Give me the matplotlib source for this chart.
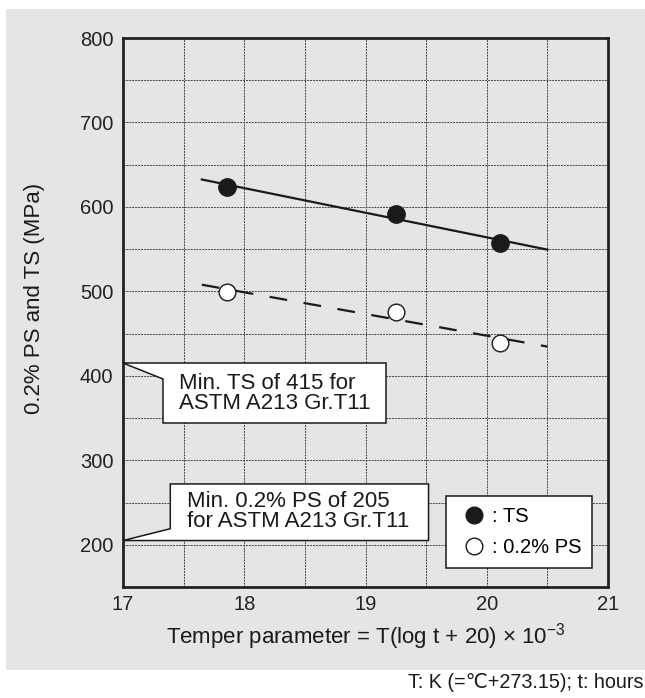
import numpy as np
import matplotlib.pyplot as plt
from matplotlib.patches import Polygon, Rectangle
from matplotlib.lines import Line2D

plt.rcParams['font.family'] = ['Liberation Sans', 'DejaVu Sans']
plt.rcParams['mathtext.default'] = 'regular'

# data
tp = [17.86, 19.25, 20.11]          # temper parameter
ts = [624, 592, 557]                # tensile strength, MPa
ps = [499, 476, 439]                # 0.2% proof stress, MPa
fit_range = [17.65, 20.5]
min_ts = 415
min_ps = 205

ink = '#1a1a1a'
fig = plt.figure(figsize=(6.45, 6.98), dpi=100)
fig.patches.append(Rectangle((6/645, 28/698), 1, 661/698, transform=fig.transFigure,
                             facecolor='#e5e5e5', edgecolor='none', zorder=-10))
ax = fig.add_axes([123/645, 111/698, 485/645, 549/698])
ax.set_facecolor('#e5e5e5')

ax.set_xlim(17, 21)
ax.set_ylim(150, 800)
ax.set_xticks(np.arange(17, 21.01, 1))
ax.set_xticks(np.arange(17, 21.01, 0.5), minor=True)
ax.set_yticks(np.arange(200, 801, 100))
ax.set_yticks(np.arange(150, 801, 50), minor=True)
ax.grid(which='both', color='#444444', linestyle=(0, (2, 1)), linewidth=0.7)
ax.tick_params(which='both', length=0)
ax.tick_params(axis='y', pad=7, labelsize=14.5, colors='#222222')
ax.tick_params(axis='x', pad=6, labelsize=14.5, colors='#222222')
for s in ax.spines.values():
    s.set_linewidth(2)
    s.set_color('#222222')

# regression lines
xf = np.array(fit_range)
for y, ls in [(ts, '-'), (ps, (0, (8, 7.5)))]:
    c = np.polyfit(tp, y, 1)
    ax.plot(xf, np.polyval(c, xf), color=ink, lw=1.6, linestyle=ls, zorder=3)

ax.plot(tp, ts, 'o', ms=12.5, mfc=ink, mec=ink, zorder=4)
ax.plot(tp, ps, 'o', ms=12, mfc='white', mec=ink, mew=1, zorder=4)

# callout boxes
c1 = [(17, min_ts), (19.17, min_ts), (19.17, 344), (17.33, 344), (17.33, 396)]
c2 = [(17.39, 272), (19.52, 272), (19.52, min_ps), (17, min_ps), (17.39, 219)]
for pts in [c1, c2]:
    ax.add_patch(Polygon(pts, closed=True, facecolor='white', edgecolor=ink,
                         lw=1.1, zorder=5, clip_on=False))
ax.text(17.46, 379, 'Min. TS of %d for\nASTM A213 Gr.T11' % min_ts, fontsize=16,
        va='center', ha='left', color=ink, zorder=6, linespacing=0.95)
ax.text(17.53, 239, 'Min. 0.2%% PS of %d\nfor ASTM A213 Gr.T11' % min_ps, fontsize=16,
        va='center', ha='left', color=ink, zorder=6, linespacing=0.95)

handles = [Line2D([], [], ls='', marker='o', ms=12, mfc=ink, mec=ink),
           Line2D([], [], ls='', marker='o', ms=12, mfc='white', mec=ink, mew=1)]
leg = ax.legend(handles, [': TS', ': 0.2% PS'], loc='lower left',
                bbox_to_anchor=(0.667, 0.034), fancybox=False, framealpha=1,
                edgecolor=ink, fontsize=14.5, handletextpad=0.1,
                borderpad=0.55, labelspacing=0.6, handlelength=1.6, borderaxespad=0)
leg.get_frame().set_linewidth(1.1)
leg.set_zorder(6)

ax.set_xlabel('Temper parameter = T(log t + 20) × 10$^{-3}$', fontsize=16,
              labelpad=5, color=ink)
ax.set_ylabel('0.2% PS and TS (MPa)', fontsize=16, color=ink)
ax.yaxis.set_label_coords(-0.16, 0.526)

fig.text(0.998, 10/698, 'T: K (=℃+273.15); t: hours', fontsize=14.2,
         ha='right', va='baseline', color=ink)

fig.savefig('out.png', dpi=100)
